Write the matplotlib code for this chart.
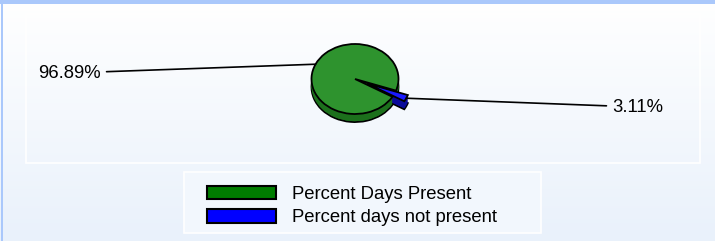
import numpy as np
import matplotlib
matplotlib.use("Agg")
import matplotlib.pyplot as plt
from matplotlib.patches import Rectangle

labels = ["Percent Days Present", "Percent days not present"]
values = [96.89, 3.11]
pct_text = ["96.89%", "3.11%"]
top_colors = ["#2e932e", "#1a1aff"]
side_colors = ["#1c701c", "#0a0a9a"]
explode = [0.0, 0.3]

W, H = 715, 241
fig = plt.figure(figsize=(W / 100, H / 100), dpi=100)

# background gradient
bg = fig.add_axes([0, 0, 1, 1])
grad = np.linspace(0, 1, 256).reshape(-1, 1)
cmap = matplotlib.colors.LinearSegmentedColormap.from_list("bg", ["#ffffff", "#e9f1fb"])
bg.imshow(grad, aspect="auto", cmap=cmap, extent=[0, W, 0, H], origin="upper")
bg.set_xlim(0, W)
bg.set_ylim(0, H)
bg.axis("off")
# top / left border
bg.add_patch(Rectangle((0, H - 4), W, 4, color="#aac8fb", lw=0))
bg.add_patch(Rectangle((1, 0), 2, H, color="#aac8fb", lw=0))
# inner panel
bg.add_patch(Rectangle((26, H - 163), 674, 149, fill=False, ec="white", lw=1.2))
# legend frame
bg.add_patch(Rectangle((184, H - 233), 357, 61, fc="#f2f7fd", ec="white", lw=1.2))

# pie axes: radius 1 -> 43.5px wide, 35px tall
cx, cy = 355, H - 79
ax_l, ax_r, ax_b, ax_t = 255, 455, 101, 211
ax = fig.add_axes([ax_l / W, ax_b / H, (ax_r - ax_l) / W, (ax_t - ax_b) / H])
ax.axis("off")

start = -19.4
depth = 0.23
layers = np.linspace(-depth, 0, 10)
for i, dy in enumerate(layers[:-1]):
    ec = "black" if i == 0 else "none"
    ax.pie(values, colors=side_colors, explode=explode, startangle=start,
           center=(0, dy), wedgeprops=dict(edgecolor=ec, linewidth=1.3))
wedges, _ = ax.pie(values, colors=top_colors, explode=explode, startangle=start,
                   center=(0, 0), wedgeprops=dict(edgecolor="black", linewidth=1.3))

ax.set_aspect("auto")
ax.set_xlim(-(cx - ax_l) / 43.5, (ax_r - cx) / 43.5)
ax.set_ylim(-(cy - ax_b) / 35, (ax_t - cy) / 35)

# leader lines and labels
text_pos = [(101, H - 73), (612, H - 107)]
aligns = ["right", "left"]
acc = start
for v, t, tp, ha, ex in zip(values, pct_text, text_pos, aligns, explode):
    mid = np.deg2rad(acc + v * 360 / 100 / 2)
    acc += v * 360 / 100
    r = 1.0 + ex
    ax.annotate(t, xy=(r * np.cos(mid), r * np.sin(mid)), xytext=tp,
                textcoords="figure pixels", ha=ha, va="center", fontsize=13.3,
                fontfamily="Liberation Sans", annotation_clip=False,
                arrowprops=dict(arrowstyle="-", color="black", lw=1.2,
                                shrinkA=2, shrinkB=0))

leg = fig.legend(wedges, labels, loc="upper left",
                 bbox_to_anchor=(192 / W, (H - 171) / H),
                 frameon=False, prop={"family": "Liberation Sans", "size": 13.3},
                 handlelength=3.75, handleheight=0.76, handletextpad=0.85,
                 labelspacing=0.33, borderpad=0.3)
for h in leg.legend_handles:
    h.set_edgecolor("black")
    h.set_linewidth(1.5)
leg.legend_handles[0].set_facecolor("#007d00")
leg.legend_handles[1].set_facecolor("#0000ff")

fig.savefig("out.png", dpi=100)
